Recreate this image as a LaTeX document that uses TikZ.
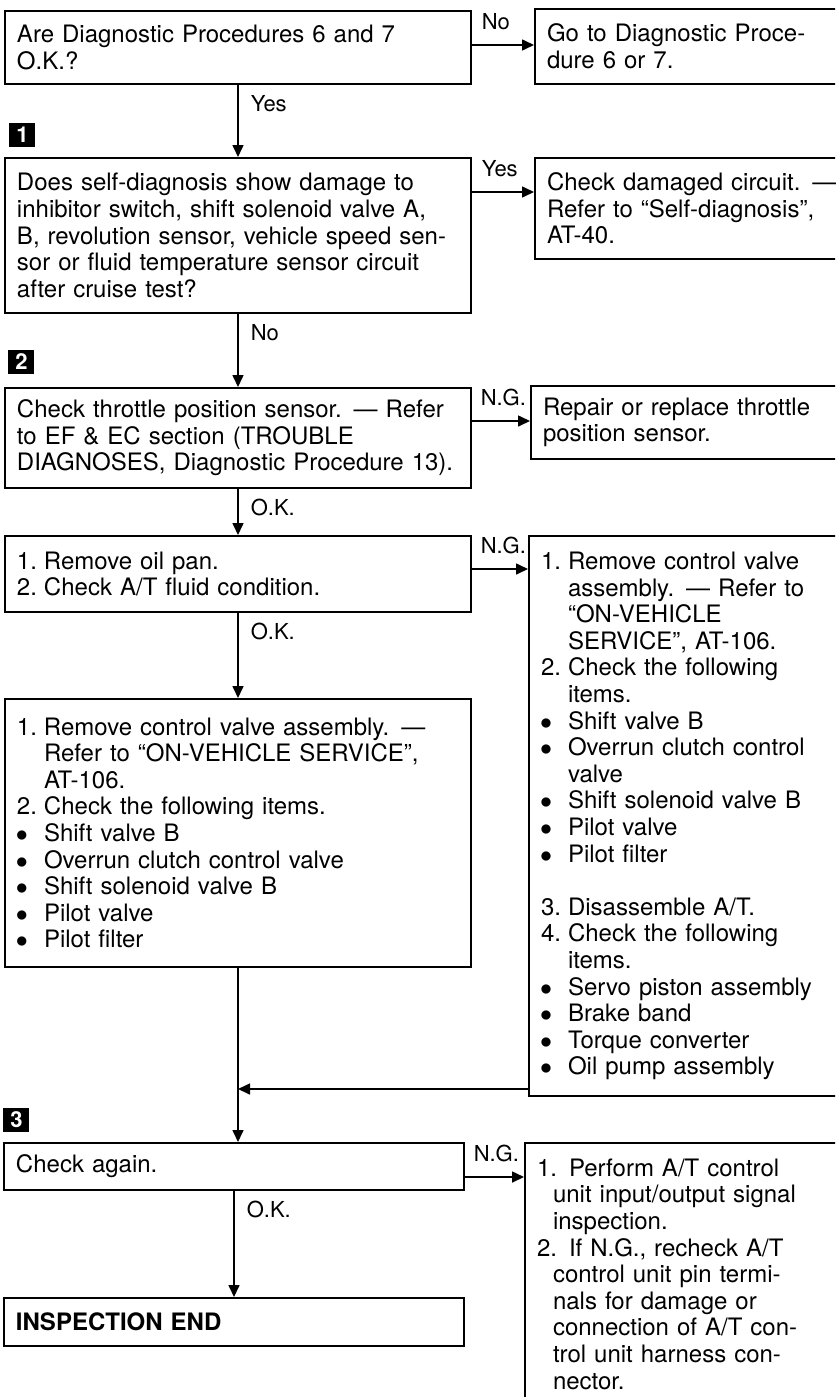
\documentclass[tikz,border=0pt]{standalone}
\usepackage{fontspec}
\setmainfont{TeX Gyre Heros}
\usetikzlibrary{arrows.meta,calc,positioning}

\newcommand\stepnum[1]{\makebox[13.5pt][l]{#1}}
\newcommand\stepdot{\makebox[13.5pt][l]{\hspace*{-0.5pt}$\bullet$}}
\newcommand\stepgap{\hspace*{13.5pt}}
\newcommand\sidegap{\hspace*{8pt}}

\tikzset{
  stepbox/.style={draw,line width=1pt,anchor=north west,align=left,
    inner xsep=6pt,inner ysep=4pt,text width=221pt},
  sidebox/.style={stepbox,text width=149pt},
  flow/.style={line width=0.8pt,-{Triangle[length=6pt,width=5.5pt]}},
  stepmark/.style={fill=black,text=white,font=\bfseries\fontsize{11}{11}\selectfont,
    minimum width=13pt,minimum height=12pt,inner sep=0pt,anchor=south west},
  lbl/.style={inner sep=0pt,font=\fontsize{11}{12}\selectfont}
}

\begin{document}
\begin{tikzpicture}[x=0.5pt,y=-0.5pt,font=\fontsize{12}{13.3}\selectfont]
  \useasboundingbox (0,0) rectangle (835,1397);
  \fill[white] (0,0) rectangle (835,1397);
  \clip (0,0) rectangle (835,1397);

  % main column
  \node[stepbox,minimum height=36.5pt] (q1) at (4,10)
    {Are Diagnostic Procedures 6 and 7\\O.K.?};
  \node[stepbox,minimum height=77.5pt] (q2) at (4,157)
    {Does self-diagnosis show damage to\\
     inhibitor switch, shift solenoid valve A,\\
     B, revolution sensor, vehicle speed sen-\\
     sor or fluid temperature sensor circuit\\
     after cruise test?};
  \node[stepbox,minimum height=50pt] (q3) at (4,387)
    {Check throttle position sensor. --- Refer\\
     to EF \& EC section (TROUBLE\\
     DIAGNOSES, Diagnostic Procedure 13).};
  \node[stepbox,minimum height=38pt] (q4) at (4,535)
    {\stepnum{1.}Remove oil pan.\\
     \stepnum{2.}Check A/T fluid condition.};
  \node[stepbox,minimum height=134pt] (q5) at (4,698)
    {\stepnum{1.}Remove control valve assembly. ---\\
     \stepgap Refer to ``ON-VEHICLE SERVICE'',\\
     \stepgap AT-106.\\
     \stepnum{2.}Check the following items.\\
     \stepdot Shift valve B\\
     \stepdot Overrun clutch control valve\\
     \stepdot Shift solenoid valve B\\
     \stepdot Pilot valve\\
     \stepdot Pilot filter};
  \node[stepbox,text width=218pt,minimum height=23.5pt] (q6) at (3,1142)
    {Check again.};
  \node[stepbox,text width=218pt,minimum height=24pt] (q7) at (3,1297)
    {\textbf{INSPECTION END}};

  % side column
  \node[sidebox,minimum height=37.5pt] (r1) at (534,8)
    {Go to Diagnostic Proce-\\dure 6 or 7.};
  \node[sidebox,minimum height=50.5pt] (r2) at (534,157)
    {Check damaged circuit. ---\\
     Refer to ``Self-diagnosis'',\\
     AT-40.};
  \node[sidebox,minimum height=36.5pt] (r3) at (530,385)
    {Repair or replace throttle\\position sensor.};
  \node[sidebox,minimum height=280pt] (r4) at (528,535)
    {\stepnum{1.}Remove control valve\\
     \stepgap assembly. --- Refer to\\
     \stepgap ``ON-VEHICLE\\
     \stepgap SERVICE'', AT-106.\\
     \stepnum{2.}Check the following\\
     \stepgap items.\\
     \stepdot Shift valve B\\
     \stepdot Overrun clutch control\\
     \stepgap valve\\
     \stepdot Shift solenoid valve B\\
     \stepdot Pilot valve\\
     \stepdot Pilot filter\\[13.3pt]
     \stepnum{3.}Disassemble A/T.\\
     \stepnum{4.}Check the following\\
     \stepgap items.\\
     \stepdot Servo piston assembly\\
     \stepdot Brake band\\
     \stepdot Torque converter\\
     \stepdot Oil pump assembly};
  \node[sidebox,minimum height=131pt] (r6) at (524,1142)
    {1. Perform A/T control\\
     \sidegap unit input/output signal\\
     \sidegap inspection.\\
     2. If N.G., recheck A/T\\
     \sidegap control unit pin termi-\\
     \sidegap nals for damage or\\
     \sidegap connection of A/T con-\\
     \sidegap trol unit harness con-\\
     \sidegap nector.};

  % step marks
  \node[stepmark] (m1) at ($(q2.north west)+(5,-10)$) {1};
  \node[stepmark] (m2) at ($(q3.north west)+(4,-13)$) {2};
  \node[stepmark] (m3) at ($(q6.north west)+(0,-10)$) {3};

  % downward flow
  \draw[flow] (q1.south) -- (q2.north)
    node[lbl,pos=0,anchor=base west,xshift=6pt,yshift=-13pt] {Yes};
  \draw[flow] (q2.south) -- (q3.north)
    node[lbl,pos=0,anchor=base west,xshift=6pt,yshift=-13pt] {No};
  \draw[flow] (q3.south) -- (q4.north)
    node[lbl,pos=0,anchor=base west,xshift=6pt,yshift=-13pt] {O.K.};
  \draw[flow] (q4.south) -- (q5.north)
    node[lbl,pos=0,anchor=base west,xshift=6pt,yshift=-13pt] {O.K.};
  \draw[flow] (q5.south) -- (q5.south |- q6.north);
  \coordinate (join) at ($(q5.south |- q6.north)+(0,-53)$);
  \draw[flow] (r4.west |- join) -- (join);
  \draw[flow] (q6.south) -- (q7.north)
    node[lbl,pos=0,anchor=base west,xshift=6pt,yshift=-13pt] {O.K.};

  % sideways flow
  \coordinate (q1o) at ([yshift=-17.5pt]q1.north east);
  \draw[flow] (q1o) -- (q1o -| r1.west)
    node[lbl,pos=0,anchor=base west,xshift=4.5pt,yshift=8pt] {No};
  \coordinate (q2o) at ([yshift=-17.5pt]q2.north east);
  \draw[flow] (q2o) -- (q2o -| r2.west)
    node[lbl,pos=0,anchor=base west,xshift=4.5pt,yshift=8pt] {Yes};
  \coordinate (q3o) at ([yshift=-17pt]q3.north east);
  \draw[flow] (q3o) -- (q3o -| r3.west)
    node[lbl,pos=0,anchor=base west,xshift=4pt,yshift=8pt] {N.G.};
  \coordinate (q4o) at ([yshift=-17pt]q4.north east);
  \draw[flow] (q4o) -- (q4o -| r4.west)
    node[lbl,pos=0,anchor=base west,xshift=4pt,yshift=8pt] {N.G.};
  \coordinate (q6o) at ([yshift=-17.5pt]q6.north east);
  \draw[flow] (q6o) -- (q6o -| r6.west)
    node[lbl,pos=0,anchor=base west,xshift=4pt,yshift=8pt] {N.G.};
\end{tikzpicture}
\end{document}
